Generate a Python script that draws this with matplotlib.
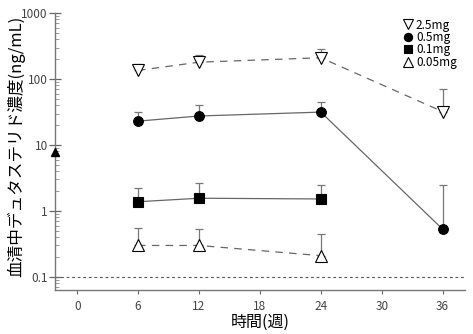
import matplotlib
matplotlib.use("Agg")
import matplotlib.pyplot as plt
from matplotlib.ticker import LogLocator, NullFormatter, FixedLocator

plt.rcParams['font.family'] = ['Noto Sans CJK JP', 'DejaVu Sans']

# serum concentration (ng/mL) by week, with upper error limits
weeks = [6, 12, 24, 36]
mg25 = [135, 180, 210, 32]
mg25_hi = [168, 235, 285, 70]
mg05 = [23, 27.5, 31.5, 0.53]
mg05_hi = [32, 40, 45, 2.5]

weeks3 = [6, 12, 24]
mg01 = [1.38, 1.56, 1.52]
mg01_hi = [2.25, 2.7, 2.5]
mg005 = [0.30, 0.30, 0.21]
mg005_hi = [0.56, 0.53, 0.45]

baseline_x = -2.2
baseline_y = 7.9
lloq = 0.1

xticks = [0, 6, 12, 18, 24, 30, 36]
yticks = [0.1, 1, 10, 100, 1000]
ytick_labels = ['0.1', '1', '10', '100', '1000']

line_c = '#666666'
err_c = '#777777'

fig = plt.figure(figsize=(4.73, 3.34), dpi=100)
ax = fig.add_axes([0.116, 0.132, 0.867, 0.829])


def series(x, y, hi, marker, fill, ls, label, ms):
    up = [h - v for h, v in zip(hi, y)]
    ax.errorbar(x, y, yerr=[[0] * len(y), up], fmt='none', ecolor=err_c,
                elinewidth=0.9, capsize=3, capthick=0.9, zorder=2)
    ax.plot(x, y, ls=ls, color=line_c, lw=0.9, zorder=3)
    ax.plot(x, y, ls='none', marker=marker, ms=ms, mfc=fill, mec='black',
            mew=0.8, zorder=4, label=label)


dash = (0, (6, 5))
series(weeks, mg25, mg25_hi, 'v', 'white', dash, '2.5mg', 8.5)
series(weeks, mg05, mg05_hi, 'o', 'black', '-', '0.5mg', 7)
series(weeks3, mg01, mg01_hi, 's', 'black', '-', '0.1mg', 7)
series(weeks3, mg005, mg005_hi, '^', 'white', dash, '0.05mg', 8.5)

ax.plot([baseline_x], [baseline_y], marker='^', color='black', ms=6,
        clip_on=False, zorder=5)

ax.axhline(lloq, color='#555555', lw=0.8, ls=(0, (2.5, 2.5)), zorder=1)

ax.set_yscale('log')
ax.set_xlim(-2.2, 38.2)
ax.set_ylim(0.0636, 1000)
ax.set_xticks(xticks)
ax.yaxis.set_major_locator(FixedLocator(yticks))
ax.set_yticklabels(ytick_labels)
ax.yaxis.set_minor_locator(LogLocator(base=10, subs=range(2, 10)))
ax.yaxis.set_minor_formatter(NullFormatter())

for s in ['top', 'right']:
    ax.spines[s].set_visible(False)
for s in ['left', 'bottom']:
    ax.spines[s].set_color('#777777')
    ax.spines[s].set_linewidth(1.0)

ax.tick_params(axis='y', which='major', direction='inout', length=8,
               width=0.9, color='#666666', labelsize=8.5, labelcolor='#444444', pad=1)
ax.tick_params(axis='y', which='minor', direction='in', length=3,
               width=0.6, color='#888888')
ax.tick_params(axis='x', which='major', direction='out', length=3,
               width=0.8, color='#666666', labelsize=8.5, labelcolor='#444444', pad=4)

ax.set_xlabel('時間(週)', fontsize=11.5, labelpad=1)
ax.set_ylabel('血清中デュタステリド濃度(ng/mL)', fontsize=12, va='center')
ax.yaxis.set_label_coords(-0.095, 0.52)

ax.legend(loc='upper right', bbox_to_anchor=(1.0, 1.01), frameon=False,
          fontsize=8.5, handlelength=0.9, handletextpad=0.2, labelspacing=-0.05,
          borderpad=0.2, markerscale=0.85)

fig.savefig('out.png', dpi=100)
